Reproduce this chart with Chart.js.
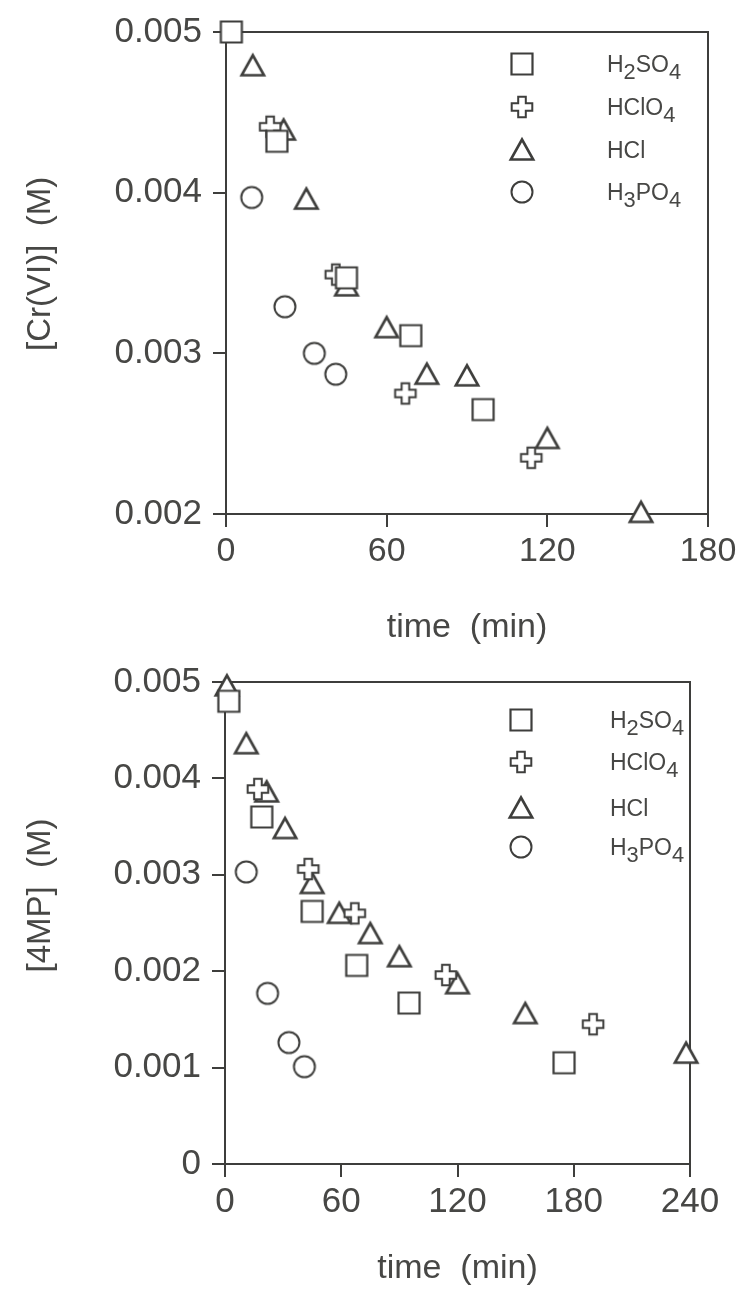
<!DOCTYPE html>
<html><head><meta charset="utf-8">
<script src="https://cdn.jsdelivr.net/npm/chart.js@4.4.1/dist/chart.umd.min.js"></script>
<style>
html,body{margin:0;padding:0;background:#fff;}
body{width:742px;height:1293px;position:relative;overflow:hidden;}
.box{position:absolute;left:0;width:742px;}
</style></head><body>
<div class="box" style="top:0;height:650px"><canvas id="c1"></canvas></div>
<div class="box" style="top:650px;height:643px"><canvas id="c2"></canvas></div>
<script>
// ---------- data ----------
const acidLabels = ['H₂SO₄', 'HClO₄', 'HCl', 'H₃PO₄'];

// top panel: [Cr(VI)] vs time
const crTimeH2SO4 = [2, 19, 45, 69, 96];
const crValH2SO4  = [0.00500, 0.00432, 0.00347, 0.00311, 0.00265];
const crTimeHClO4 = [16.5, 41, 67, 114];
const crValHClO4  = [0.00441, 0.00349, 0.00275, 0.00235];
const crTimeHCl   = [10, 21.5, 30, 45, 60, 75, 90, 120, 155];
const crValHCl    = [0.00479, 0.00439, 0.00396, 0.00342, 0.00316, 0.00287, 0.00286, 0.00247, 0.00201];
const crTimeH3PO4 = [9.6, 22, 33, 41];
const crValH3PO4  = [0.00397, 0.00329, 0.00300, 0.00287];
const crTicksX = [0, 60, 120, 180];
const crTicksY = [0.002, 0.003, 0.004, 0.005];

// bottom panel: [4MP] vs time
const mpTimeH2SO4 = [2, 19, 45, 68, 95, 175];
const mpValH2SO4  = [0.00480, 0.00360, 0.00262, 0.00206, 0.00167, 0.00105];
const mpTimeHClO4 = [17, 43, 67, 114, 190];
const mpValHClO4  = [0.00389, 0.00306, 0.00260, 0.00196, 0.00145];
const mpTimeHCl   = [1, 11, 21.5, 31, 45, 59, 75, 90, 120, 155, 238];
const mpValHCl    = [0.00496, 0.00436, 0.00386, 0.00348, 0.00291, 0.00260, 0.00239, 0.00215, 0.00187, 0.00156, 0.00115];
const mpTimeH3PO4 = [11, 22, 33, 41];
const mpValH3PO4  = [0.00303, 0.00177, 0.00126, 0.00101];
const mpTicksX = [0, 60, 120, 180, 240];
const mpTicksY = [0, 0.001, 0.002, 0.003, 0.004, 0.005];

// ---------- styling ----------
const INK = '#3e3e3c';
const TXT = '#474745';
const FONT = '"Liberation Sans", Arial, Helvetica, sans-serif';

function makeMarker(kind) {
  const c = document.createElement('canvas');
  c.width = 30; c.height = 30;
  const g = c.getContext('2d');
  g.translate(15, 15);
  g.strokeStyle = INK; g.fillStyle = '#fff'; g.lineJoin = 'miter';
  g.beginPath();
  if (kind === 'square') {
    g.lineWidth = 2.2;
    g.rect(-10.5, -10.5, 21, 21);
  } else if (kind === 'plus') {
    g.lineWidth = 2;
    const a = 3.8, h = 10.3;
    g.moveTo(-a, -h); g.lineTo(a, -h); g.lineTo(a, -a); g.lineTo(h, -a); g.lineTo(h, a);
    g.lineTo(a, a); g.lineTo(a, h); g.lineTo(-a, h); g.lineTo(-a, a); g.lineTo(-h, a);
    g.lineTo(-h, -a); g.lineTo(-a, -a); g.closePath();
  } else if (kind === 'triangle') {
    g.lineWidth = 2.6;
    g.moveTo(0, -10.5); g.lineTo(11.2, 9.5); g.lineTo(-11.2, 9.5); g.closePath();
  } else {
    g.lineWidth = 2;
    g.arc(0, 0, 10.5, 0, Math.PI * 2);
  }
  g.fill(); g.stroke();
  return c;
}
const markers = [makeMarker('square'), makeMarker('plus'), makeMarker('triangle'), makeMarker('circle')];

function pts(xs, ys) { return xs.map((x, i) => ({x: x, y: ys[i]})); }

function drawFormula(ctx, text, x, y, size) {
  const subs = '₀₁₂₃₄₅₆₇₈₉';
  let cx = x;
  for (const ch of text) {
    const k = subs.indexOf(ch);
    if (k >= 0) {
      ctx.font = (size * 0.95) + 'px ' + FONT;
      ctx.fillText(String(k), cx, y + size * 0.32);
      cx += ctx.measureText(String(k)).width;
    } else {
      ctx.font = size + 'px ' + FONT;
      ctx.fillText(ch, cx, y);
      cx += ctx.measureText(ch).width;
    }
  }
}

const subLegend = {
  id: 'subLegend',
  afterDatasetsDraw(chart, args, opts) {
    const ctx = chart.ctx;
    ctx.save();
    ctx.fillStyle = TXT;
    ctx.textBaseline = 'alphabetic';
    ctx.textAlign = 'left';
    chart.data.datasets.forEach((ds, i) => {
      const y = opts.rows[i];
      const img = ds.pointStyle;
      ctx.drawImage(img, opts.symbolX - img.width / 2, y - img.height / 2);
      drawFormula(ctx, ds.label, opts.textX, y + 8, opts.size);
    });
    ctx.restore();
  }
};

const framePlugin = {
  id: 'frame',
  beforeDatasetsDraw(chart) {
    const a = chart.chartArea, ctx = chart.ctx;
    ctx.save();
    ctx.strokeStyle = INK; ctx.lineWidth = 2;
    ctx.beginPath();
    ctx.moveTo(a.left, a.top); ctx.lineTo(a.right, a.top); ctx.lineTo(a.right, a.bottom);
    ctx.stroke();
    ctx.restore();
  }
};

function fmt(v) { return v === 0 ? '0' : v.toFixed(3); }

function makeChart(id, cfg) {
  const datasets = cfg.series.map((s, i) => ({
    label: acidLabels[i],
    data: pts(s[0], s[1]),
    pointStyle: markers[i],
    pointRadius: 11,
    showLine: false,
    clip: false
  }));
  return new Chart(document.getElementById(id), {
    type: 'scatter',
    data: {datasets},
    options: {
      responsive: true, maintainAspectRatio: false, animation: false, events: [],
      layout: {padding: cfg.padding},
      plugins: {legend: {display: false}, tooltip: {enabled: false}, subLegend: cfg.legend},
      scales: {
        x: {
          type: 'linear', min: cfg.xTicks[0], max: cfg.xTicks[cfg.xTicks.length - 1],
          afterBuildTicks: s => { s.ticks = cfg.xTicks.map(v => ({value: v})); },
          afterFit: s => { s.height = cfg.xHeight; },
          grid: {drawOnChartArea: false, drawTicks: true, tickLength: 13, color: INK, lineWidth: 2},
          border: {display: true, color: INK, width: 2},
          ticks: {color: TXT, font: {family: FONT, size: cfg.xFont}, padding: 4, maxRotation: 0, autoSkip: false,
                  callback: v => String(v)},
          title: {display: true, text: 'time  (min)', color: TXT, font: {family: FONT, size: 34}, padding: {top: 0, bottom: 0}}
        },
        y: {
          type: 'linear', min: cfg.yTicks[0], max: cfg.yTicks[cfg.yTicks.length - 1],
          afterBuildTicks: s => { s.ticks = cfg.yTicks.map(v => ({value: v})); },
          afterFit: s => { s.width = cfg.yWidth; },
          grid: {drawOnChartArea: false, drawTicks: true, tickLength: 13, color: INK, lineWidth: 2},
          border: {display: true, color: INK, width: 2},
          ticks: {color: TXT, font: {family: FONT, size: 35}, padding: 11, autoSkip: false, callback: v => fmt(v)},
          title: {display: true, text: cfg.yTitle, color: TXT, font: {family: FONT, size: 33}, padding: {top: 21, bottom: 0}}
        }
      }
    },
    plugins: [framePlugin, subLegend]
  });
}

makeChart('c1', {
  series: [[crTimeH2SO4, crValH2SO4], [crTimeHClO4, crValHClO4], [crTimeHCl, crValHCl], [crTimeH3PO4, crValH3PO4]],
  xTicks: crTicksX, yTicks: crTicksY,
  padding: {left: 0, right: 34, top: 29, bottom: 2},
  xHeight: 134, yWidth: 226, xFont: 34,
  yTitle: '  [Cr(VI)]  (M)',
  legend: {symbolX: 522, textX: 607, rows: [64, 107, 150, 192], size: 23}
});

makeChart('c2', {
  series: [[mpTimeH2SO4, mpValH2SO4], [mpTimeHClO4, mpValHClO4], [mpTimeHCl, mpValHCl], [mpTimeH3PO4, mpValH3PO4]],
  xTicks: mpTicksX, yTicks: mpTicksY,
  padding: {left: 0, right: 52, top: 32, bottom: 4},
  xHeight: 125, yWidth: 225, xFont: 35,
  yTitle: '      [4MP]  (M)',
  legend: {symbolX: 521, textX: 610, rows: [70, 112, 158, 197], size: 23}
});
</script>
</body></html>
